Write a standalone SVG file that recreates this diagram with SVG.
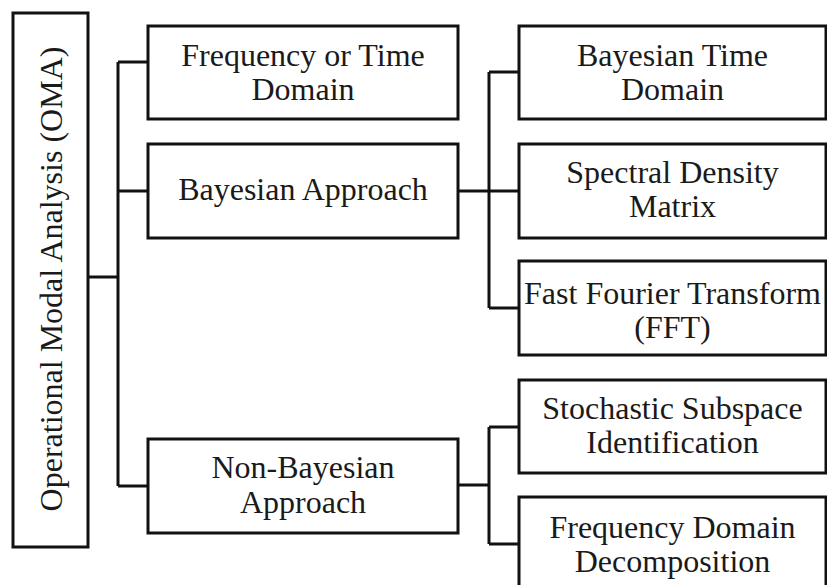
<svg xmlns="http://www.w3.org/2000/svg" width="827" height="585" viewBox="0 0 827 585">
<style>
.box{fill:#fff;stroke:#111;stroke-width:3}
.ln{fill:none;stroke:#111;stroke-width:3}
text{font-family:"Liberation Serif","Times New Roman",serif;font-size:32px;fill:#1a1a1a;text-anchor:middle}
</style>
<rect width="827" height="585" fill="#fff"/>
<g id="connectors">
<polyline class="ln" points="88,277 118,277"/>
<line class="ln" x1="118" y1="62" x2="118" y2="486"/>
<line class="ln" x1="118" y1="62" x2="148" y2="62"/>
<line class="ln" x1="118" y1="191" x2="148" y2="191"/>
<line class="ln" x1="118" y1="486" x2="148" y2="486"/>
<line class="ln" x1="458" y1="191" x2="489" y2="191"/>
<line class="ln" x1="489" y1="72" x2="489" y2="308"/>
<line class="ln" x1="489" y1="72" x2="519" y2="72"/>
<line class="ln" x1="489" y1="191" x2="519" y2="191"/>
<line class="ln" x1="489" y1="308" x2="519" y2="308"/>
<line class="ln" x1="458" y1="485" x2="489" y2="485"/>
<line class="ln" x1="489" y1="427" x2="489" y2="544"/>
<line class="ln" x1="489" y1="427" x2="519" y2="427"/>
<line class="ln" x1="489" y1="544" x2="519" y2="544"/>
</g>
<g id="oma">
<rect class="box" x="13" y="13" width="75" height="534"/>
<text transform="translate(61.5,279) rotate(-90)">Operational Modal Analysis (OMA)</text>
</g>
<g id="freq-time">
<rect class="box" x="148" y="26" width="310" height="93"/>
<text x="303" y="65.5">Frequency or Time</text>
<text x="303" y="99.5">Domain</text>
</g>
<g id="bayesian">
<rect class="box" x="148" y="144" width="310" height="94"/>
<text x="303" y="200">Bayesian Approach</text>
</g>
<g id="non-bayesian">
<rect class="box" x="148" y="439" width="310" height="94"/>
<text x="303" y="478">Non-Bayesian</text>
<text x="303" y="513">Approach</text>
</g>
<g id="bayes-time">
<rect class="box" x="519" y="26" width="307" height="93"/>
<text x="672.5" y="65.5">Bayesian Time</text>
<text x="672.5" y="99.5">Domain</text>
</g>
<g id="spectral">
<rect class="box" x="519" y="144" width="307" height="94"/>
<text x="672.5" y="183">Spectral Density</text>
<text x="672.5" y="217">Matrix</text>
</g>
<g id="fft">
<rect class="box" x="519" y="261" width="307" height="94"/>
<text x="672.5" y="304">Fast Fourier Transform</text>
<text x="672.5" y="338">(FFT)</text>
</g>
<g id="ssi">
<rect class="box" x="519" y="380" width="307" height="93"/>
<text x="672.5" y="419">Stochastic Subspace</text>
<text x="672.5" y="453">Identification</text>
</g>
<g id="fdd">
<rect class="box" x="519" y="497" width="307" height="110"/>
<text x="672.5" y="538">Frequency Domain</text>
<text x="672.5" y="572">Decomposition</text>
</g>
</svg>
